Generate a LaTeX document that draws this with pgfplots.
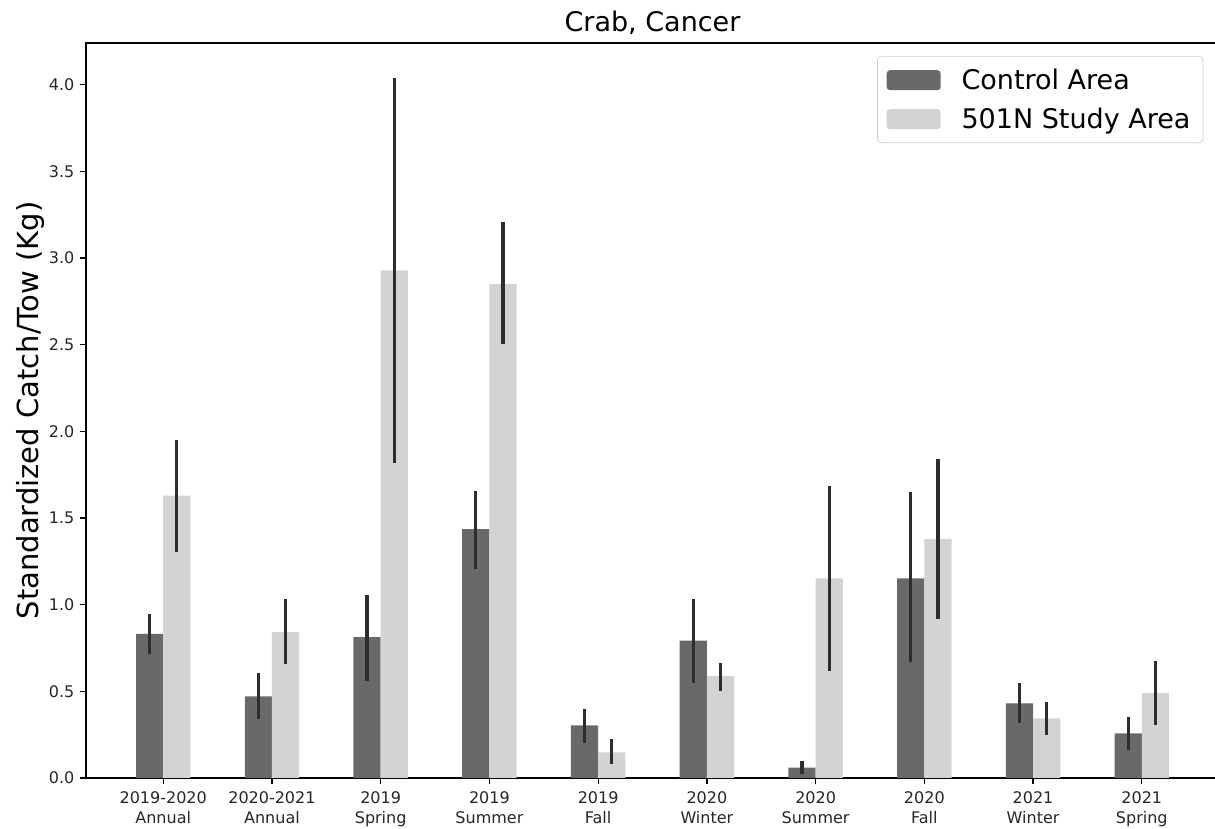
\documentclass[border=0pt]{standalone}
\usepackage{fontspec}
\setmainfont{DejaVu Sans}
\usepackage{pgfplots}
\pgfplotsset{compat=1.18}
\usepackage{pgfplotstable}
\definecolor{ctrlc}{RGB}{105,105,105}
\definecolor{studyc}{RGB}{211,211,211}
\definecolor{errc}{RGB}{45,45,45}
\pgfplotstableread{
x y ep em
0 0.831 0.116 0.115
1 0.471 0.133 0.132
2 0.812 0.243 0.252
3 1.435 0.223 0.231
4 0.304 0.094 0.104
5 0.793 0.240 0.243
6 0.060 0.038 0.037
7 1.152 0.497 0.484
8 0.431 0.115 0.115
9 0.258 0.094 0.098
}\ctrltab
\pgfplotstableread{
x y ep em
0 1.629 0.322 0.326
1 0.841 0.192 0.183
2 2.928 1.112 1.110
3 2.851 0.358 0.348
4 0.148 0.075 0.065
5 0.587 0.075 0.085
6 1.152 0.535 0.532
7 1.378 0.465 0.458
8 0.344 0.095 0.096
9 0.489 0.184 0.183
}\studytab
\newcommand{\tickfont}{\fontsize{9.6}{12}\selectfont}
\begin{document}
\begin{tikzpicture}
\begin{axis}[
  scale only axis, width=679.8pt, height=441pt,
  xmin=-0.71, xmax=9.71, ymin=0, ymax=4.24,
  ybar=0pt, bar width=0.25,
  xtick={0,...,9},
  xticklabels={{2019-2020\\Annual},{2020-2021\\Annual},{2019\\Spring},{2019\\Summer},{2019\\Fall},{2020\\Winter},{2020\\Summer},{2020\\Fall},{2021\\Winter},{2021\\Spring}},
  xticklabel style={align=center, font=\tickfont, text=black!85, yshift=-1pt},
  ytick={0,0.5,...,4},
  yticklabel style={font=\tickfont, text=black!85, /pgf/number format/.cd, fixed, fixed zerofill, precision=1},
  /pgf/number format/assume math mode=true,
  tick align=outside, xtick pos=bottom, ytick pos=left,
  major tick length=3.5pt,
  tick style={black, line width=0.75pt},
  axis line style={black, line width=0.75pt},
  title={Crab, Cancer},
  title style={at={(axis description cs:0.5,1)}, anchor=base, yshift=0.8pt, font=\fontsize{16.2}{19}\selectfont, inner sep=0pt},
  ylabel={Standardized Catch/Tow (Kg)},
  ylabel style={at={(axis description cs:-0.0494,0.5)}, anchor=center, rotate=0, font=\fontsize{17.4}{20}\selectfont},
  legend style={at={(1,1)}, anchor=north east, xshift=-9.4pt, yshift=-8pt, draw=black!20, rounded corners=2pt, fill=white, font=\fontsize{16.2}{19}\selectfont, inner xsep=5.5pt, inner ysep=5.2pt, row sep=5.6pt, column sep=10.5pt, legend cell align=left},
  legend image code/.code={\fill[#1] (0pt,-6pt) rectangle (32.4pt,6pt);},
  error bars/y dir=both, error bars/y explicit,
  error bars/error mark=none,
  error bars/error bar style={line width=1.9pt, color=errc},
]
\addplot[fill=ctrlc, draw=none, bar shift=-0.125] table[x=x, y=y, y error plus=ep, y error minus=em] {\ctrltab};
\addlegendentry{Control Area}
\addplot[fill=studyc, draw=none, bar shift=0.125] table[x=x, y=y, y error plus=ep, y error minus=em] {\studytab};
\addlegendentry{501N Study Area}
\end{axis}
\pgfresetboundingbox
\useasboundingbox ([shift={(-51.6pt,-30.6pt)}]current axis.south west) rectangle ([shift={(-2.4pt,25.8pt)}]current axis.north east);
\end{tikzpicture}
\end{document}
